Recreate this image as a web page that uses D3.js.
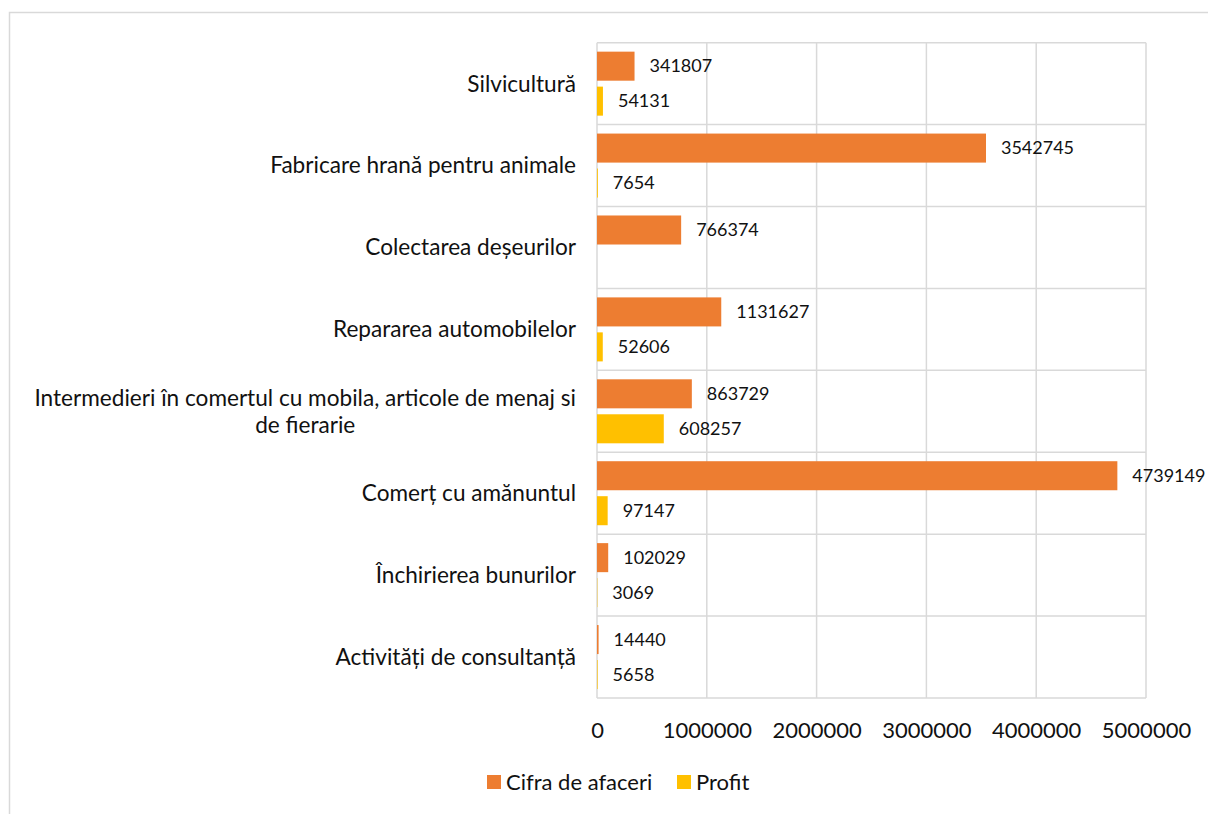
<!DOCTYPE html>
<html>
<head>
<meta charset="utf-8">
<script src="https://cdn.jsdelivr.net/npm/d3@7"></script>
<style>
  html, body { margin: 0; padding: 0; background: #fff; }
  svg { display: block; }
  text { font-family: Lato, "Open Sans", sans-serif; fill: #111; }
</style>
</head>
<body>
<svg id="chart" width="1208" height="814"></svg>
<script>
// Activity sectors, top to bottom
const categories = [
  ["Silvicultură"],
  ["Fabricare hrană pentru animale"],
  ["Colectarea deșeurilor"],
  ["Repararea automobilelor"],
  ["Intermedieri în comertul cu mobila, articole de menaj si", "de fierarie"],
  ["Comerț cu amănuntul"],
  ["Închirierea bunurilor"],
  ["Activități de consultanță"]
];
const cifraDeAfaceri = [341807, 3542745, 766374, 1131627, 863729, 4739149, 102029, 14440];
const profit = [54131, 7654, null, 52606, 608257, 97147, 3069, 5658];
const xTicks = [0, 1000000, 2000000, 3000000, 4000000, 5000000];
const seriesNames = ["Cifra de afaceri", "Profit"];
const seriesColors = ["#ED7D31", "#FFC000"];

const svg = d3.select("#chart");
const catFont = 22.6;  // category labels
const axisFont = 22;   // tick and legend text
const labelFont = 18;  // data labels

// Outer chart frame
svg.append("rect")
  .attr("x", 9.5).attr("y", 12.5)
  .attr("width", 1400).attr("height", 1000)
  .attr("fill", "none").attr("stroke", "#d9d9d9").attr("stroke-width", 1.5);

const plot = { left: 597, right: 1146, top: 42.7, bottom: 698 };

const x = d3.scaleLinear().domain([0, 5000000]).range([plot.left, plot.right]);
const y = d3.scaleBand().domain(d3.range(categories.length))
  .range([plot.top, plot.bottom]).paddingInner(0).paddingOuter(0);
const ys = d3.scaleBand().domain([0, 1]).range([0, y.bandwidth()])
  .paddingInner(0.17).paddingOuter(0.256);

// Gridlines: vertical at ticks, horizontal at category boundaries
const grid = svg.append("g").attr("stroke", "#d9d9d9").attr("stroke-width", 1.5);
grid.selectAll("line.v").data(xTicks).join("line")
  .attr("x1", d => x(d)).attr("x2", d => x(d))
  .attr("y1", plot.top).attr("y2", plot.bottom);
const bounds = d3.range(categories.length + 1).map(i => plot.top + i * y.step());
grid.selectAll("line.h").data(bounds).join("line")
  .attr("x1", plot.left).attr("x2", plot.right)
  .attr("y1", d => d).attr("y2", d => d);

// X axis tick labels
const xAxis = d3.axisBottom(x).tickValues(xTicks).tickFormat(d3.format("d")).tickSize(0).tickPadding(0);
const gx = svg.append("g").attr("transform", `translate(0,${plot.bottom + 24})`).call(xAxis);
gx.select(".domain").remove();
gx.selectAll("text").style("font-size", axisFont + "px").style("font-family", "Lato, sans-serif").attr("fill", "#111");

// Bars and value labels
const series = [cifraDeAfaceri, profit];
series.forEach((vals, si) => {
  const g = svg.append("g");
  const data = vals.map((v, i) => ({ v, i })).filter(d => d.v !== null);
  g.selectAll("rect").data(data).join("rect")
    .attr("x", x(0))
    .attr("y", d => y(d.i) + ys(si))
    .attr("width", d => x(d.v) - x(0))
    .attr("height", ys.bandwidth())
    .attr("fill", seriesColors[si]);
  g.selectAll("text").data(data).join("text")
    .attr("x", d => x(d.v) + 15)
    .attr("y", d => y(d.i) + ys(si) + ys.bandwidth() / 2)
    .attr("dy", "0.35em")
    .style("font-size", labelFont + "px")
    .text(d => d.v);
});

// Category labels (multi-line blocks right-aligned, lines centered in block)
const catG = svg.append("g");
const labelRight = 576;
const lineH = 27;
categories.forEach((lines, i) => {
  const cy = y(i) + y.bandwidth() / 2;
  const t = catG.append("text").style("font-size", catFont + "px");
  const spans = lines.map(ln => t.append("tspan").text(ln));
  const widths = spans.map(s => s.node().getComputedTextLength());
  const maxW = d3.max(widths);
  const cx = labelRight - maxW / 2;
  spans.forEach((s, k) => {
    s.attr("x", cx).attr("text-anchor", "middle")
     .attr("y", cy + (k - (lines.length - 1) / 2) * lineH)
     .attr("dy", "0.35em");
  });
});

// Legend
const legend = svg.append("g").attr("transform", "translate(0,782)");
const legendItems = [{ x: 487, name: seriesNames[0], c: seriesColors[0] },
                     { x: 677, name: seriesNames[1], c: seriesColors[1] }];
legend.selectAll("rect").data(legendItems).join("rect")
  .attr("x", d => d.x).attr("y", -7).attr("width", 14).attr("height", 14)
  .attr("fill", d => d.c);
legend.selectAll("text").data(legendItems).join("text")
  .attr("x", d => d.x + 19).attr("y", 0).attr("dy", "0.35em")
  .style("font-size", axisFont + "px")
  .text(d => d.name);
</script>
</body>
</html>
